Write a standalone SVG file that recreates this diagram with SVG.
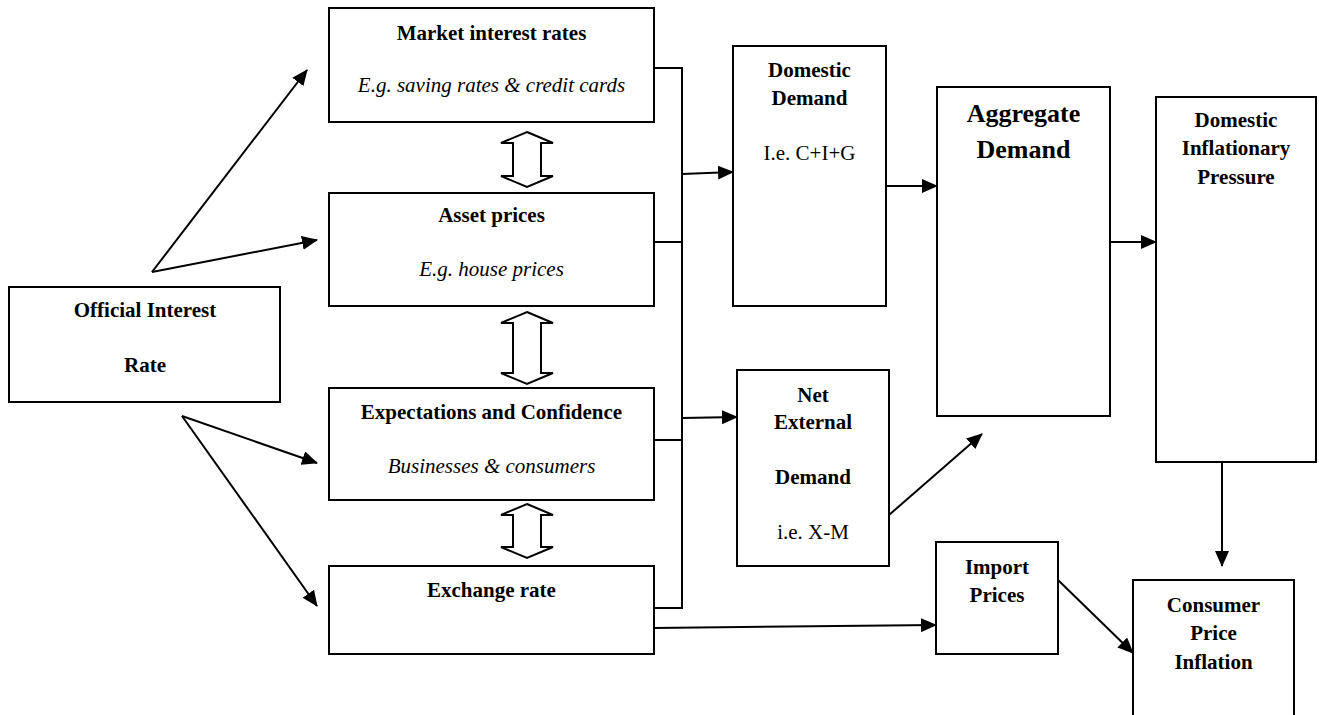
<svg xmlns="http://www.w3.org/2000/svg" width="1319" height="715" viewBox="0 0 1319 715">
<style>
.box{fill:#fff;stroke:#000;stroke-width:2}
.t{font-family:"Liberation Serif","Times New Roman",serif;font-size:21px;fill:#000;text-anchor:middle}
.b{font-weight:bold}
.i{font-style:italic}
.big{font-size:26px}
.c{fill:none;stroke:#000;stroke-width:2}
.a{fill:none;stroke:#000;stroke-width:2;marker-end:url(#ah)}
.dbl{fill:#fff;stroke:#000;stroke-width:2;stroke-linejoin:miter}
</style>
<defs>
<marker id="ah" markerUnits="userSpaceOnUse" markerWidth="16" markerHeight="14" refX="15" refY="7" orient="auto">
<path d="M0,0 L16,7 L0,14 z" fill="#000"/>
</marker>
</defs>
<rect width="1319" height="715" fill="#fff"/>

<g id="official">
<rect class="box" x="9" y="287" width="271" height="115"/>
<text class="t b" x="145" y="317">Official Interest</text>
<text class="t b" x="145" y="372">Rate</text>
</g>

<g id="market">
<rect class="box" x="329" y="8" width="325" height="114"/>
<text class="t b" x="491.5" y="40">Market interest rates</text>
<text class="t i" x="491.5" y="92">E.g. saving rates &amp; credit cards</text>
</g>

<g id="asset">
<rect class="box" x="329" y="193" width="325" height="113"/>
<text class="t b" x="491.5" y="222">Asset prices</text>
<text class="t i" x="491.5" y="276">E.g. house prices</text>
</g>

<g id="expectations">
<rect class="box" x="329" y="388" width="325" height="112"/>
<text class="t b" x="491.5" y="419">Expectations and Confidence</text>
<text class="t i" x="491.5" y="473">Businesses &amp; consumers</text>
</g>

<g id="exchange">
<rect class="box" x="329" y="566" width="325" height="88"/>
<text class="t b" x="491.5" y="597">Exchange rate</text>
</g>

<g id="domestic-demand">
<rect class="box" x="733" y="46" width="153" height="260"/>
<text class="t b" x="809.5" y="77">Domestic</text>
<text class="t b" x="809.5" y="105">Demand</text>
<text class="t" x="809.5" y="160">I.e. C+I+G</text>
</g>

<g id="net-external">
<rect class="box" x="737" y="370" width="152" height="196"/>
<text class="t b" x="813" y="402">Net</text>
<text class="t b" x="813" y="429">External</text>
<text class="t b" x="813" y="484">Demand</text>
<text class="t" x="813" y="539">i.e. X-M</text>
</g>

<g id="aggregate">
<rect class="box" x="937" y="87" width="173" height="329"/>
<text class="t b big" x="1023.5" y="122">Aggregate</text>
<text class="t b big" x="1023.5" y="158">Demand</text>
</g>

<g id="dip">
<rect class="box" x="1156" y="97" width="160" height="365"/>
<text class="t b" x="1236" y="127">Domestic</text>
<text class="t b" x="1236" y="155">Inflationary</text>
<text class="t b" x="1236" y="184">Pressure</text>
</g>

<g id="import">
<rect class="box" x="936" y="542" width="122" height="112"/>
<text class="t b" x="997" y="574">Import</text>
<text class="t b" x="997" y="602">Prices</text>
</g>

<g id="cpi">
<rect class="box" x="1133" y="580" width="161" height="140"/>
<text class="t b" x="1213.5" y="612">Consumer</text>
<text class="t b" x="1213.5" y="640">Price</text>
<text class="t b" x="1213.5" y="669">Inflation</text>
</g>

<g id="connectors">
<line class="a" x1="152" y1="272" x2="307" y2="70"/>
<line class="a" x1="152" y1="272" x2="317" y2="240"/>
<line class="a" x1="182" y1="416" x2="317" y2="463"/>
<line class="a" x1="182" y1="416" x2="317" y2="606"/>
<line class="c" x1="654" y1="68" x2="682" y2="68"/>
<line class="c" x1="654" y1="242" x2="682" y2="242"/>
<line class="c" x1="654" y1="440" x2="682" y2="440"/>
<line class="c" x1="654" y1="608" x2="682" y2="608"/>
<line class="c" x1="682" y1="67" x2="682" y2="609"/>
<line class="a" x1="682" y1="174" x2="733" y2="172"/>
<line class="a" x1="682" y1="418" x2="737" y2="417"/>
<line class="a" x1="886" y1="186" x2="937" y2="186"/>
<line class="a" x1="1110" y1="242" x2="1156" y2="242"/>
<line class="a" x1="889" y1="515" x2="982" y2="434"/>
<line class="a" x1="654" y1="628" x2="936" y2="625"/>
<line class="a" x1="1058" y1="580" x2="1133" y2="653"/>
<line class="a" x1="1222" y1="462" x2="1222" y2="566"/>
<path class="dbl" d="M527,132 L553,143 L541,143 L541,176 L553,176 L527,187 L501,176 L513,176 L513,143 L501,143 Z"/>
<path class="dbl" d="M527,312 L553,323 L541,323 L541,373 L553,373 L527,384 L501,373 L513,373 L513,323 L501,323 Z"/>
<path class="dbl" d="M527,504 L553,515 L541,515 L541,547 L553,547 L527,558 L501,547 L513,547 L513,515 L501,515 Z"/>
</g>
</svg>
